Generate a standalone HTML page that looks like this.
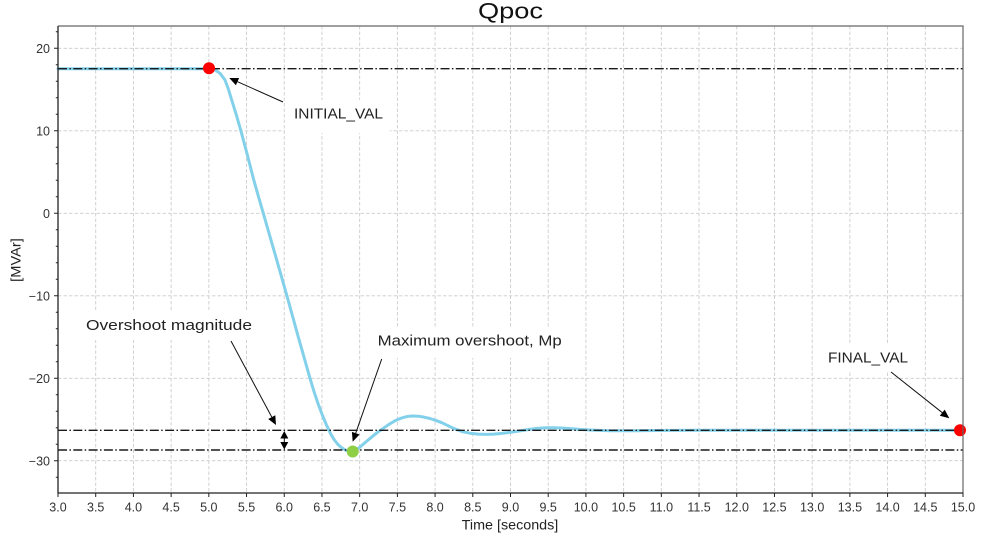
<!DOCTYPE html>
<html><head><meta charset="utf-8"><style>
html,body{margin:0;padding:0;background:#fff;}
svg{display:block;font-family:"Liberation Sans","DejaVu Sans",sans-serif;}
</style></head><body>
<svg width="993" height="539" viewBox="0 0 993 539" xmlns="http://www.w3.org/2000/svg">
<rect width="993" height="539" fill="#fff"/>
<!-- grid -->
<g stroke="#cccccc" stroke-width="0.9" stroke-dasharray="3.5 2" fill="none">
<path d="M95.71 26V493M133.42 26V493M171.13 26V493M208.83 26V493M246.54 26V493M284.25 26V493M321.96 26V493M359.67 26V493M397.38 26V493M435.08 26V493M472.79 26V493M510.5 26V493M548.21 26V493M585.92 26V493M623.63 26V493M661.33 26V493M699.04 26V493M736.75 26V493M774.46 26V493M812.17 26V493M849.88 26V493M887.58 26V493M925.29 26V493"/>
<path d="M58 48.3H963M58 130.8H963M58 213.3H963M58 295.8H963M58 378.3H963M58 460.7H963"/>
</g>
<!-- annotation bboxes -->
<rect x="285" y="100" width="105" height="33" fill="#fff"/>
<rect x="80" y="310" width="178" height="30" fill="#fff"/>
<rect x="370" y="327" width="200" height="31" fill="#fff"/>
<rect x="820" y="343" width="96" height="29" fill="#fff"/>
<!-- curve -->
<polyline fill="none" stroke="#82d0ea" stroke-width="3" stroke-linejoin="round" stroke-linecap="round" points="58,68.7 209,68.7 212,69.1 216,70.5 220,73.3 225,80 228.5,89.5 231.7,100 236.5,115.5 241.5,133 247.5,155.5 253.3,178.3 258.3,196 263.3,213.3 275,254 286.7,295 298.3,337 310,378.3 314,391.5 318,403.5 322.5,415.5 326.7,425.5 330.5,433.5 334,439.5 338,444.5 342,448 346,450.3 349.5,451.5 352.7,451.8 355.5,451 358,448.8 362,445.3 367,441 372,436.8 377.5,432.3 383.3,428.3 389,424.3 395,420.8 400,418.6 405,417 409,416.3 413,416 418,416.2 423,416.9 430,418.5 436.7,420.7 442,422.8 447,425.2 452,427.6 456.7,429.6 463,431.8 470,433.2 478,434.1 486.7,434.4 494,434.1 502,433.4 510,432.4 519,431 528,429.6 537,428.4 546.7,427.8 555,427.7 563,428.1 572,428.8 580,429.4 590,430 600,430.4 610,430.7 625,430.8 645,430.6 670,430.4 700,430.3 961,430.3"/>
<!-- dash-dot lines -->
<g stroke="#1a1a1a" stroke-width="1.4" stroke-dasharray="9 2.4 1.5 2.4" fill="none">
<path d="M58 68.7H963"/>
<path d="M58 430.3H963"/>
<path d="M58 450H963"/>
</g>
<!-- arrows -->
<g stroke="#111" stroke-width="1" fill="none">
<path d="M283 102L237.5 81.7"/>
<path d="M891 372L942.3 412.7"/>
<path d="M231 341L271.8 417.1"/>
<path d="M381.7 359L355.7 433.2"/>
<path d="M284.3 437V443"/>
</g>
<g fill="#000">
<polygon points="229.3,78 239.1,78 235.9,85.3"/>
<polygon points="949.3,418.3 939.8,415.8 944.7,409.6"/>
<polygon points="276,425 268.2,419 275.3,415.2"/>
<polygon points="352.7,441.7 351.9,431.9 359.5,434.5"/>
<polygon points="284.3,431 280.3,438.5 288.3,438.5"/>
<polygon points="284.3,449.5 280.3,442 288.3,442"/>
</g>
<!-- points -->
<circle cx="209" cy="68.2" r="6" fill="#ff0000"/>
<circle cx="960" cy="430.3" r="6" fill="#ff0000"/>
<circle cx="352.7" cy="451.5" r="6" fill="#8fcf45"/>
<!-- spines -->
<path d="M58 26H963V493" stroke="#666" stroke-width="1.2" fill="none"/>
<path d="M58 26V493H963" stroke="#222" stroke-width="1.3" fill="none"/>
<!-- ticks -->
<g stroke="#222" stroke-width="1" fill="none">
<path d="M58 493v4M95.71 493v4M133.42 493v4M171.13 493v4M208.83 493v4M246.54 493v4M284.25 493v4M321.96 493v4M359.67 493v4M397.38 493v4M435.08 493v4M472.79 493v4M510.5 493v4M548.21 493v4M585.92 493v4M623.63 493v4M661.33 493v4M699.04 493v4M736.75 493v4M774.46 493v4M812.17 493v4M849.88 493v4M887.58 493v4M925.29 493v4M963 493v4"/>
<path d="M58 48.3h-4M58 130.8h-4M58 213.3h-4M58 295.8h-4M58 378.3h-4M58 460.7h-4"/>
<path d="M58 31.8h-2.2M58 64.8h-2.2M58 81.3h-2.2M58 97.8h-2.2M58 114.3h-2.2M58 147.3h-2.2M58 163.8h-2.2M58 180.3h-2.2M58 196.8h-2.2M58 229.8h-2.2M58 246.3h-2.2M58 262.8h-2.2M58 279.3h-2.2M58 312.3h-2.2M58 328.8h-2.2M58 345.3h-2.2M58 361.8h-2.2M58 394.8h-2.2M58 411.3h-2.2M58 427.8h-2.2M58 444.2h-2.2M58 477.2h-2.2"/>
</g>
<!-- x tick labels -->
<g font-size="12.5" fill="#333" text-anchor="middle">
<text x="58" y="511.5">3.0</text><text x="95.71" y="511.5">3.5</text><text x="133.42" y="511.5">4.0</text><text x="171.13" y="511.5">4.5</text><text x="208.83" y="511.5">5.0</text><text x="246.54" y="511.5">5.5</text><text x="284.25" y="511.5">6.0</text><text x="321.96" y="511.5">6.5</text><text x="359.67" y="511.5">7.0</text><text x="397.38" y="511.5">7.5</text><text x="435.08" y="511.5">8.0</text><text x="472.79" y="511.5">8.5</text><text x="510.5" y="511.5">9.0</text><text x="548.21" y="511.5">9.5</text><text x="585.92" y="511.5">10.0</text><text x="623.63" y="511.5">10.5</text><text x="661.33" y="511.5">11.0</text><text x="699.04" y="511.5">11.5</text><text x="736.75" y="511.5">12.0</text><text x="774.46" y="511.5">12.5</text><text x="812.17" y="511.5">13.0</text><text x="849.88" y="511.5">13.5</text><text x="887.58" y="511.5">14.0</text><text x="925.29" y="511.5">14.5</text><text x="963" y="511.5">15.0</text>
</g>
<!-- y tick labels -->
<g font-size="12.5" fill="#333" text-anchor="end">
<text x="50" y="53">20</text><text x="50" y="135.5">10</text><text x="50" y="218">0</text><text x="50" y="300.5">−10</text><text x="50" y="383">−20</text><text x="50" y="465.4">−30</text>
</g>
<!-- labels -->
<text x="461.7" y="529.3" font-size="13.5" fill="#222" textLength="96.6" lengthAdjust="spacingAndGlyphs">Time [seconds]</text>
<text transform="translate(20.5,260) rotate(-90)" x="0" y="0" font-size="13.5" fill="#222" text-anchor="middle" textLength="43.7" lengthAdjust="spacingAndGlyphs">[MVAr]</text>
<text x="478" y="18.5" font-size="22" fill="#111" textLength="65" lengthAdjust="spacingAndGlyphs">Qpoc</text>
<!-- annotation texts -->
<g font-size="14.5" fill="#222">
<text x="294" y="118.3" textLength="89" lengthAdjust="spacingAndGlyphs">INITIAL_VAL</text>
<text x="828" y="362.7" textLength="80" lengthAdjust="spacingAndGlyphs">FINAL_VAL</text>
<text x="86" y="330" textLength="166" lengthAdjust="spacingAndGlyphs">Overshoot magnitude</text>
<text x="377.7" y="345.5" textLength="184" lengthAdjust="spacingAndGlyphs">Maximum overshoot, Mp</text>
</g>
</svg>
</body></html>
